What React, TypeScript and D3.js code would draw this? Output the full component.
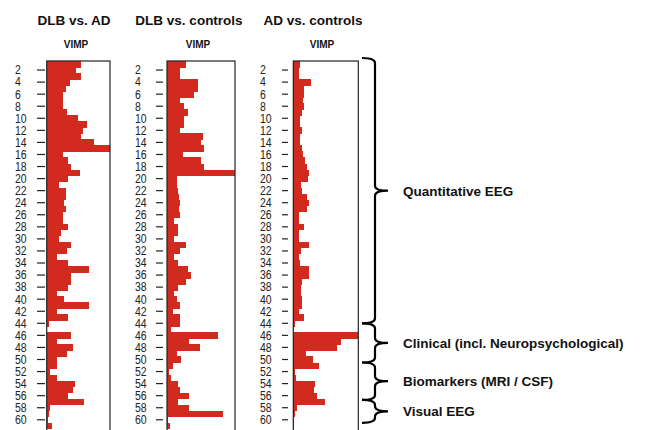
import React from "react";
import * as d3 from "d3";

// variable importance (VIMP), relative to the panel maximum, variables 1..61
const variables = d3.range(1, 62);

const dlbVsAd = [
  0.54, 0.47, 0.54, 0.37, 0.3, 0.26, 0.25, 0.26, 0.32, 0.5,
  0.64, 0.57, 0.54, 0.75, 1.0, 0.25, 0.34, 0.39, 0.53, 0.34,
  0.2, 0.3, 0.3, 0.27, 0.3, 0.25, 0.25, 0.33, 0.23, 0.2,
  0.39, 0.32, 0.17, 0.34, 0.67, 0.39, 0.39, 0.34, 0.17, 0.27,
  0.67, 0.17, 0.33, 0.03, 0.01, 0.38, 0.17, 0.42, 0.32, 0.17,
  0.17, 0.06, 0.17, 0.45, 0.42, 0.34, 0.59, 0.05, 0.04, 0.02,
  0.08,
];

const dlbVsControls = [
  0.28, 0.19, 0.19, 0.45, 0.45, 0.4, 0.19, 0.25, 0.31, 0.25,
  0.25, 0.19, 0.53, 0.5, 0.55, 0.23, 0.5, 0.55, 1.0, 0.14,
  0.14, 0.16, 0.17, 0.19, 0.17, 0.19, 0.11, 0.16, 0.16, 0.11,
  0.28, 0.19, 0.11, 0.16, 0.31, 0.36, 0.28, 0.16, 0.11, 0.14,
  0.19, 0.09, 0.19, 0.19, 0.06, 0.75, 0.33, 0.48, 0.14, 0.21,
  0.09, 0.03, 0.06, 0.16, 0.19, 0.33, 0.16, 0.33, 0.82, 0.02,
  0.05,
];

const adVsControls = [
  0.11, 0.09, 0.09, 0.27, 0.16, 0.16, 0.15, 0.16, 0.14, 0.11,
  0.1, 0.14, 0.11, 0.1, 0.13, 0.15, 0.18, 0.21, 0.24, 0.22,
  0.12, 0.13, 0.21, 0.24, 0.21, 0.08, 0.09, 0.17, 0.09, 0.09,
  0.24, 0.12, 0.09, 0.1, 0.24, 0.24, 0.14, 0.12, 0.12, 0.13,
  0.14, 0.08, 0.17, 0.03, 0.01, 1.0, 0.74, 0.67, 0.19, 0.3,
  0.4, 0.03, 0.04, 0.33, 0.32, 0.36, 0.49, 0.06, 0.03, 0.01,
  0.01,
];

const panelTitles = ["DLB vs. AD", "DLB vs. controls", "AD vs. controls"];
const tickValues = d3.range(2, 61, 2);

// variable groups and their boundaries (in variable positions)
const groupLabels = [
  "Quantitative EEG",
  "Clinical (incl. Neuropsychological)",
  "Biomarkers (MRI / CSF)",
  "Visual EEG",
];
const groupBounds = [-0.5, 43.5, 50, 56.2, 60];

const W = 650;
const H = 430;
const RED = "#d22a1f";

const plotTop = 61;
const rowH = 6.03;

// per panel layout
const layout = [
  { x0: 46.7, x1: 110, labelX: 15, tick0: 37, tick1: 45, titleX: 74, vimpX: 76 },
  { x0: 167, x1: 235, labelX: 135, tick0: 156, tick1: 163, titleX: 189, vimpX: 198 },
  { x0: 293.3, x1: 358.3, labelX: 260, tick0: 282, tick1: 288, titleX: 313, vimpX: 322 },
];

const series = [dlbVsAd, dlbVsControls, adVsControls];

const bracePath = (top: number, bottom: number, xa: number, xb: number, xc: number) => {
  const mid = (top + bottom) / 2;
  const r = 5;
  return [
    `M${xa},${top}`,
    `Q${xb},${top} ${xb},${top + r}`,
    `L${xb},${mid - r}`,
    `Q${xb},${mid} ${xc},${mid}`,
    `Q${xb},${mid} ${xb},${mid + r}`,
    `L${xb},${bottom - r}`,
    `Q${xb},${bottom} ${xa},${bottom}`,
  ].join(" ");
};

const App = () => {
  const y = d3
    .scaleBand<number>()
    .domain(variables)
    .range([plotTop, plotTop + variables.length * rowH])
    .padding(0);
  const bw = y.bandwidth();

  // position scale for group boundaries
  const yPos = d3
    .scaleLinear()
    .domain([0, variables.length])
    .range([plotTop, plotTop + variables.length * rowH]);

  return (
    <svg
      width={W}
      height={H}
      style={{ position: "absolute", left: 0, top: 0, background: "#fff" }}
      fontFamily="Liberation Sans, Arial, sans-serif"
    >
      <rect width={W} height={H} fill="#fff" />
      {series.map((vals, p) => {
        const L = layout[p];
        const x = d3
          .scaleLinear()
          .domain([0, d3.max(vals) as number])
          .range([L.x0, L.x1]);
        return (
          <g key={p}>
            <text
              x={L.titleX}
              y={25}
              textAnchor="middle"
              fontWeight="bold"
              fontSize={13.5}
              fill="#111"
            >
              {panelTitles[p]}
            </text>
            <text
              x={L.vimpX}
              y={48}
              textAnchor="middle"
              fontWeight="bold"
              fontSize={10}
              fill="#111"
            >
              VIMP
            </text>
            <g shapeRendering="crispEdges">
              {vals.map((v, i) => (
                <rect
                  key={i}
                  x={x(0)}
                  y={y(variables[i])}
                  width={x(v) - x(0)}
                  height={bw + 0.5}
                  fill={RED}
                />
              ))}
            </g>
            <rect
              x={L.x0}
              y={plotTop}
              width={L.x1 - L.x0}
              height={H - plotTop + 5}
              fill="none"
              stroke="#222"
              strokeWidth={1.2}
            />
            {tickValues.map((t) => {
              const cy = (y(t) as number) + bw / 2;
              return (
                <g key={t}>
                  <line x1={L.tick0} x2={L.tick1} y1={cy} y2={cy} stroke="#222" strokeWidth={1.2} />
                  <text
                    transform={`translate(${L.labelX},${cy}) scale(1,1.15)`}
                    dy="0.36em"
                    fontSize={10.5}
                    fill="#222"
                  >
                    {t}
                  </text>
                </g>
              );
            })}
          </g>
        );
      })}
      {groupLabels.map((g, i) => {
        const top = yPos(groupBounds[i]);
        const bottom = yPos(groupBounds[i + 1]);
        const mid = (top + bottom) / 2;
        return (
          <g key={g}>
            <path
              d={bracePath(top, bottom, 362, 375, 388)}
              fill="none"
              stroke="#000"
              strokeWidth={2.2}
            />
            <text x={403} y={mid} dy="0.36em" fontWeight="bold" fontSize={13.5} fill="#111">
              {g}
            </text>
          </g>
        );
      })}
    </svg>
  );
};

export default App;
